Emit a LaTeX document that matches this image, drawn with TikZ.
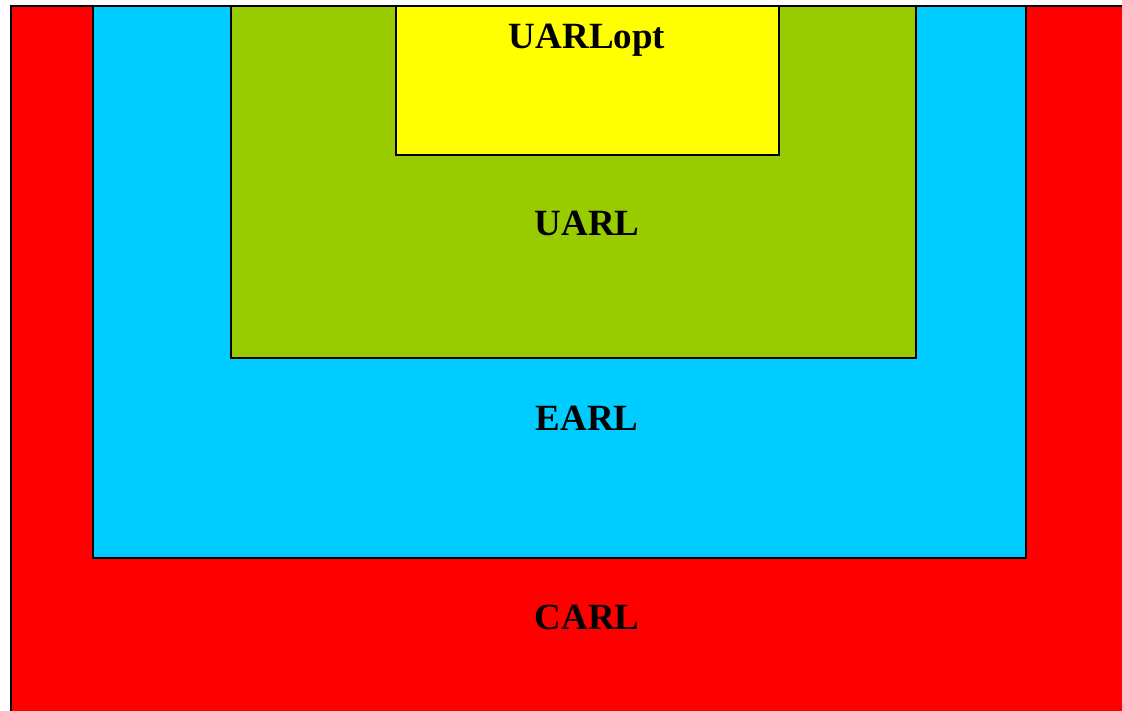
\documentclass[tikz,border=0pt]{standalone}
\usepackage{fontspec}
\setmainfont{Liberation Serif}
\definecolor{carl}{RGB}{255,0,0}
\definecolor{earl}{RGB}{0,204,255}
\definecolor{uarl}{RGB}{153,204,0}
\definecolor{uopt}{RGB}{255,255,0}
\begin{document}
\begin{tikzpicture}[x=1pt,y=-1pt,
  region/.style={draw=black,line width=2pt},
  lbl/.style={font=\fontsize{37}{40}\selectfont\bfseries,inner sep=0pt,anchor=base}]
\useasboundingbox (0,0) rectangle (1122,710);
\fill[white] (0,0) rectangle (1122,710);
\draw[region,fill=carl] (10.5,6) rectangle (1130,720);
\draw[region,fill=earl] (92.5,6) rectangle (1026,557.5);
\draw[region,fill=uarl] (230.5,6) rectangle (916,357.5);
\draw[region,fill=uopt] (395.5,6) rectangle (779,155);
\draw[black,line width=2pt] (10.5,6) -- (1130,6);
\node[lbl] (uopt) at (587,48) {UARLopt};
\node[lbl] (uarl) at (587,235) {UARL};
\node[lbl] (earl) at (587,430) {EARL};
\node[lbl] (carl) at (587,629) {CARL};
\end{tikzpicture}
\end{document}
